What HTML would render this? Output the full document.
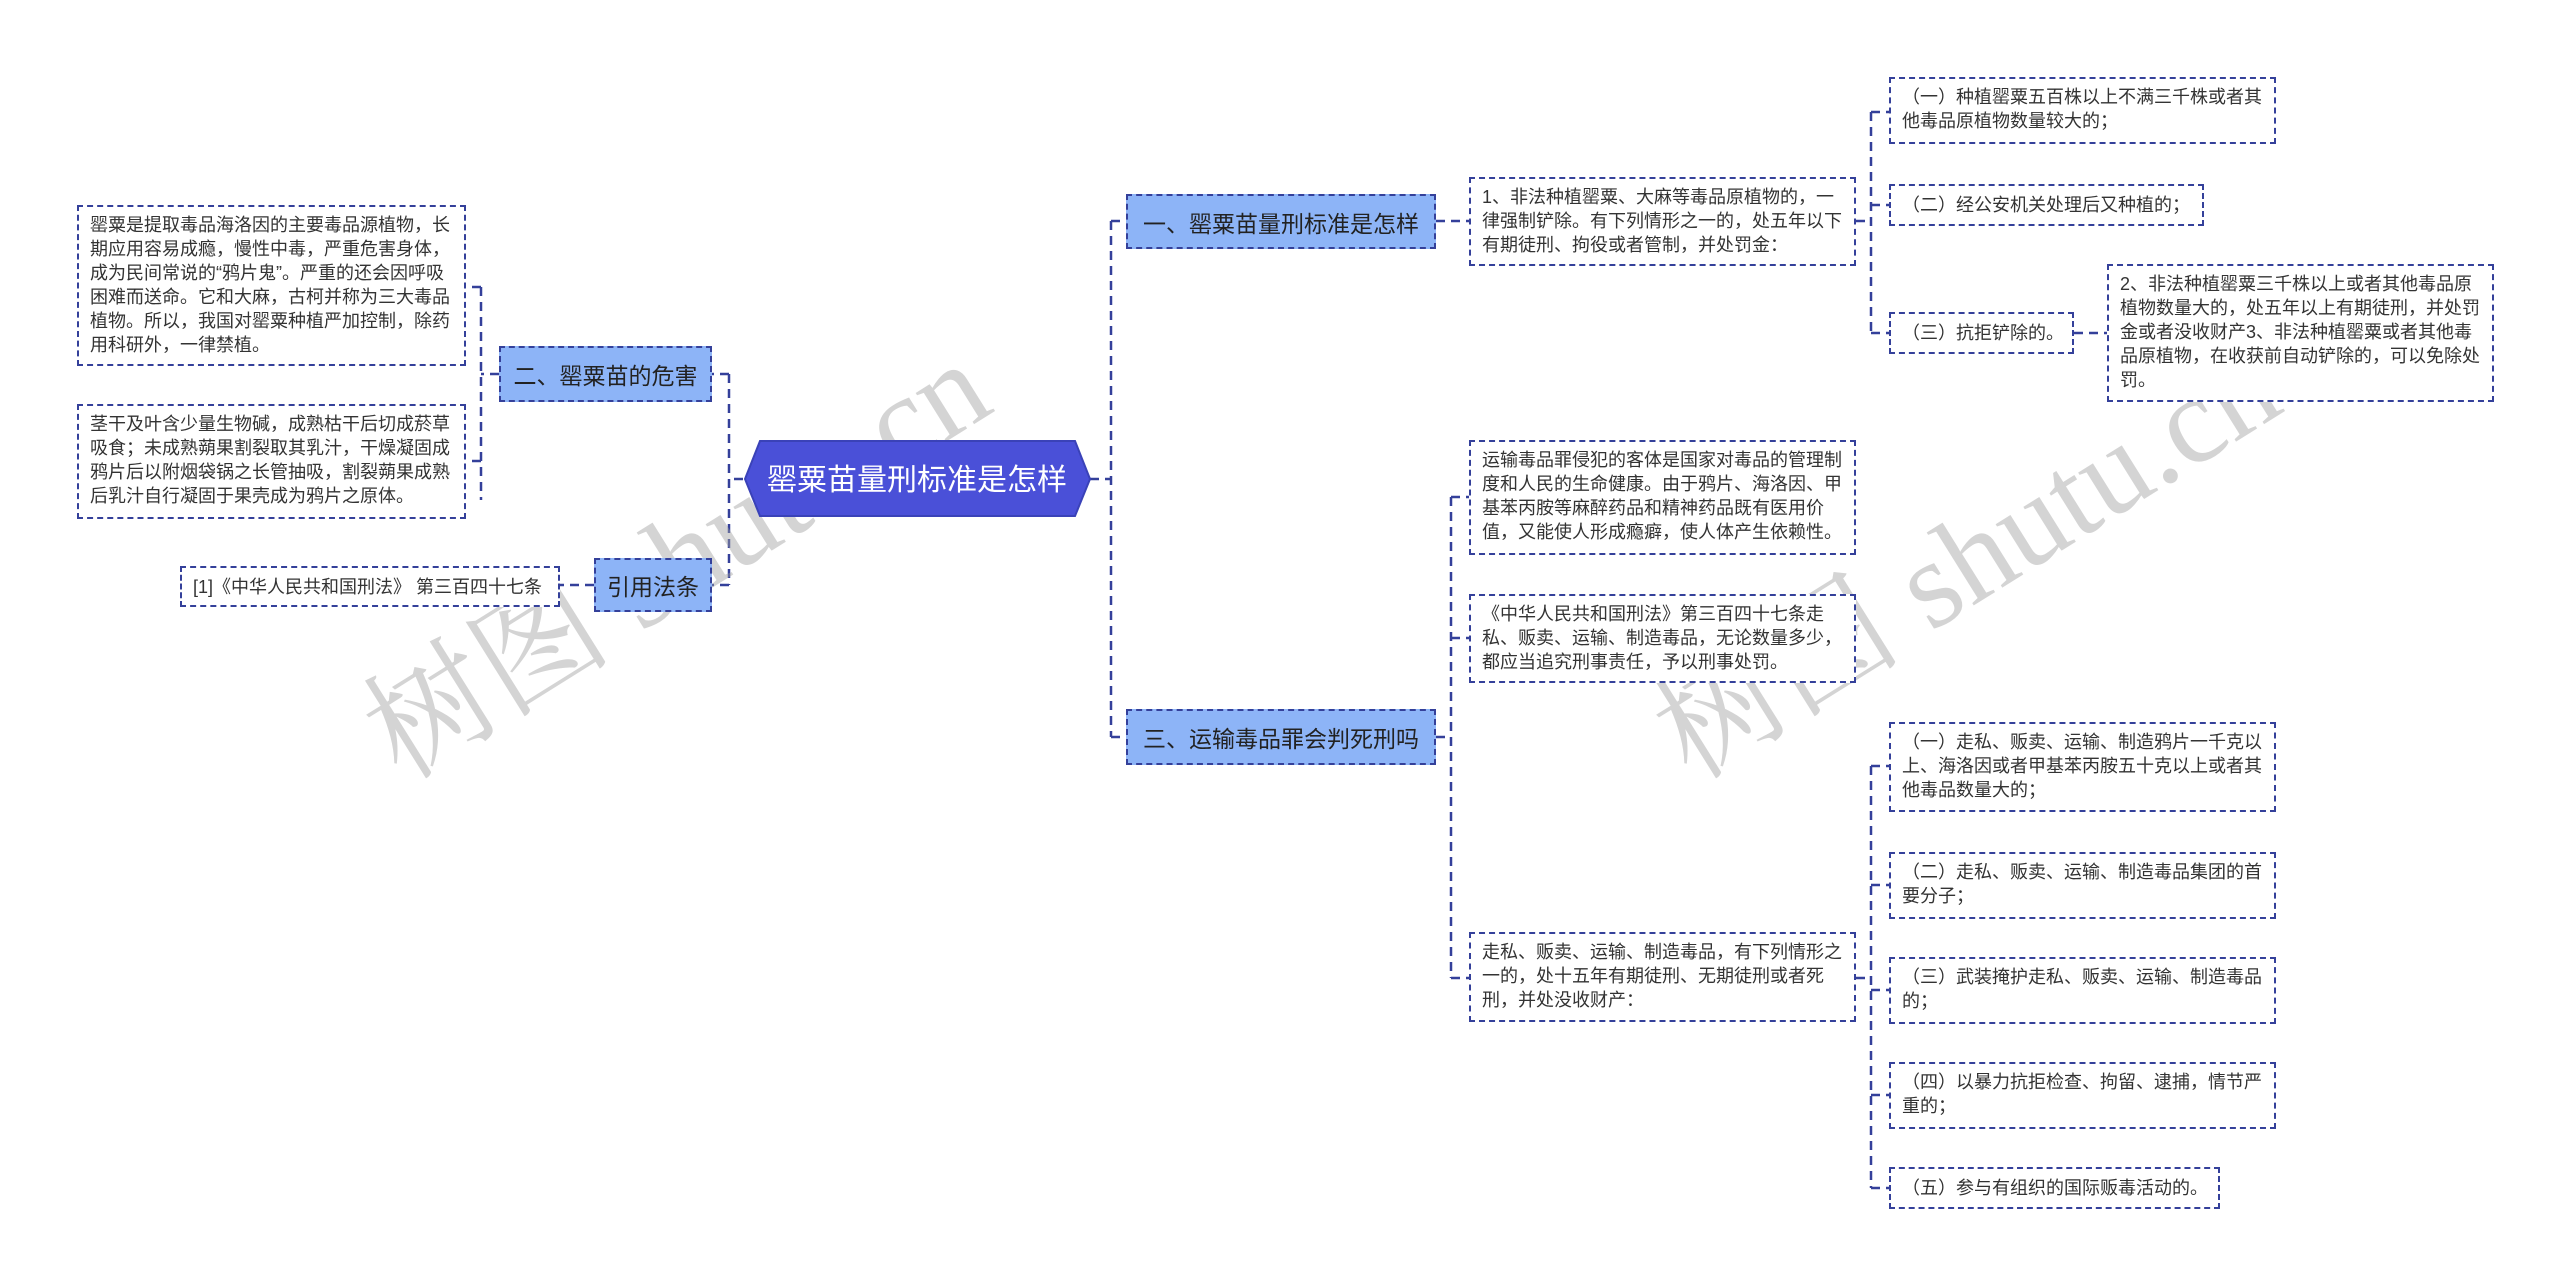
<!DOCTYPE html>
<html><head><meta charset="utf-8"><style>
body{margin:0;width:2560px;height:1281px;background:#fff;position:relative;overflow:hidden;font-family:"Liberation Sans","Noto Sans CJK SC",sans-serif;}
.b{position:absolute;box-sizing:border-box;border:2px dashed #34409a;background:#fff;color:#333;font-size:18px;line-height:24px;padding:6px 11px;word-break:break-all;}
.s{position:absolute;box-sizing:border-box;border:2px dashed #34409a;background:#8db4f7;color:#222;font-size:23px;display:flex;align-items:center;justify-content:center;white-space:nowrap;}
.c{display:flex;align-items:center;white-space:nowrap;}
svg{position:absolute;left:0;top:0;}
.wm{position:absolute;color:rgba(160,160,160,0.45);font-family:"Liberation Serif","Noto Serif CJK SC",serif;font-size:125px;transform:rotate(-32deg);white-space:nowrap;}
</style></head><body>
<svg width="2560" height="1281" fill="none" stroke="#34409a" stroke-width="2.5" stroke-dasharray="9,6">
<path d="M1090 479 H1111 M1111 221 V737 M1111 221 H1126 M1111 737 H1126"/>
<path d="M743 479 H729 M729 374 V585 M729 374 H712 M729 585 H712"/>
<path d="M499 374 H481 M481 287 V500 M481 287 H466 M481 461 H466"/>
<path d="M594 585 H560"/>
<path d="M1436 221 H1469"/>
<path d="M1856 221 H1871 M1871 112 V333 M1871 112 H1889 M1871 205 H1889 M1871 333 H1889"/>
<path d="M2074 333 H2107"/>
<path d="M1436 737 H1451 M1451 497 V978 M1451 497 H1469 M1451 638 H1469 M1451 978 H1469"/>
<path d="M1856 978 H1871 M1871 766 V1188 M1871 766 H1889 M1871 885 H1889 M1871 990 H1889 M1871 1095 H1889 M1871 1188 H1889"/>
</svg>
<div class="wm" style="left:320px;top:460px;">树图 shutu.cn</div>
<div class="wm" style="left:1610px;top:460px;">树图 shutu.cn</div>

<svg width="2560" height="1281" style="position:absolute;left:0;top:0"><polygon points="760,441 1075,441 1090,479 1075,516 760,516 745,479" fill="#4a50d8" stroke="#3a42b8" stroke-width="2"/>
<text x="917" y="490" text-anchor="middle" fill="#fff" font-size="30" font-family="Liberation Sans, Noto Sans CJK SC, sans-serif">罂粟苗量刑标准是怎样</text></svg>

<div class="s" style="left:499px;top:346px;width:213px;height:56px;">二、罂粟苗的危害</div>
<div class="s" style="left:594px;top:558px;width:118px;height:54px;">引用法条</div>
<div class="b" style="left:77px;top:205px;width:389px;height:161px;">罂粟是提取毒品海洛因的主要毒品源植物，长期应用容易成瘾，慢性中毒，严重危害身体，成为民间常说的“鸦片鬼”。严重的还会因呼吸困难而送命。它和大麻，古柯并称为三大毒品植物。所以，我国对罂粟种植严加控制，除药用科研外，一律禁植。</div>
<div class="b" style="left:77px;top:404px;width:389px;height:115px;">茎干及叶含少量生物碱，成熟枯干后切成菸草吸食；未成熟蒴果割裂取其乳汁，干燥凝固成鸦片后以附烟袋锅之长管抽吸，割裂蒴果成熟后乳汁自行凝固于果壳成为鸦片之原体。</div>
<div class="b c" style="left:180px;top:566px;width:380px;height:41px;">[1]《中华人民共和国刑法》 第三百四十七条</div>

<div class="s" style="left:1126px;top:194px;width:310px;height:55px;">一、罂粟苗量刑标准是怎样</div>
<div class="s" style="left:1126px;top:709px;width:310px;height:56px;">三、运输毒品罪会判死刑吗</div>

<div class="b" style="left:1469px;top:177px;width:387px;height:89px;">1、非法种植罂粟、大麻等毒品原植物的，一律强制铲除。有下列情形之一的，处五年以下有期徒刑、拘役或者管制，并处罚金：</div>
<div class="b" style="left:1889px;top:77px;width:387px;height:67px;">（一）种植罂粟五百株以上不满三千株或者其他毒品原植物数量较大的；</div>
<div class="b c" style="left:1889px;top:184px;width:315px;height:42px;">（二）经公安机关处理后又种植的；</div>
<div class="b c" style="left:1889px;top:312px;width:185px;height:42px;">（三）抗拒铲除的。</div>
<div class="b" style="left:2107px;top:264px;width:387px;height:138px;">2、非法种植罂粟三千株以上或者其他毒品原植物数量大的，处五年以上有期徒刑，并处罚金或者没收财产3、非法种植罂粟或者其他毒品原植物，在收获前自动铲除的，可以免除处罚。</div>

<div class="b" style="left:1469px;top:440px;width:387px;height:115px;">运输毒品罪侵犯的客体是国家对毒品的管理制度和人民的生命健康。由于鸦片、海洛因、甲基苯丙胺等麻醉药品和精神药品既有医用价值，又能使人形成瘾癖，使人体产生依赖性。</div>
<div class="b" style="left:1469px;top:594px;width:387px;height:89px;">《中华人民共和国刑法》第三百四十七条走私、贩卖、运输、制造毒品，无论数量多少，都应当追究刑事责任，予以刑事处罚。</div>
<div class="b" style="left:1469px;top:932px;width:387px;height:90px;">走私、贩卖、运输、制造毒品，有下列情形之一的，处十五年有期徒刑、无期徒刑或者死刑，并处没收财产：</div>
<div class="b" style="left:1889px;top:722px;width:387px;height:90px;">（一）走私、贩卖、运输、制造鸦片一千克以上、海洛因或者甲基苯丙胺五十克以上或者其他毒品数量大的；</div>
<div class="b" style="left:1889px;top:852px;width:387px;height:67px;">（二）走私、贩卖、运输、制造毒品集团的首要分子；</div>
<div class="b" style="left:1889px;top:957px;width:387px;height:67px;">（三）武装掩护走私、贩卖、运输、制造毒品的；</div>
<div class="b" style="left:1889px;top:1062px;width:387px;height:67px;">（四）以暴力抗拒检查、拘留、逮捕，情节严重的；</div>
<div class="b c" style="left:1889px;top:1167px;width:331px;height:42px;">（五）参与有组织的国际贩毒活动的。</div>
</body></html>
